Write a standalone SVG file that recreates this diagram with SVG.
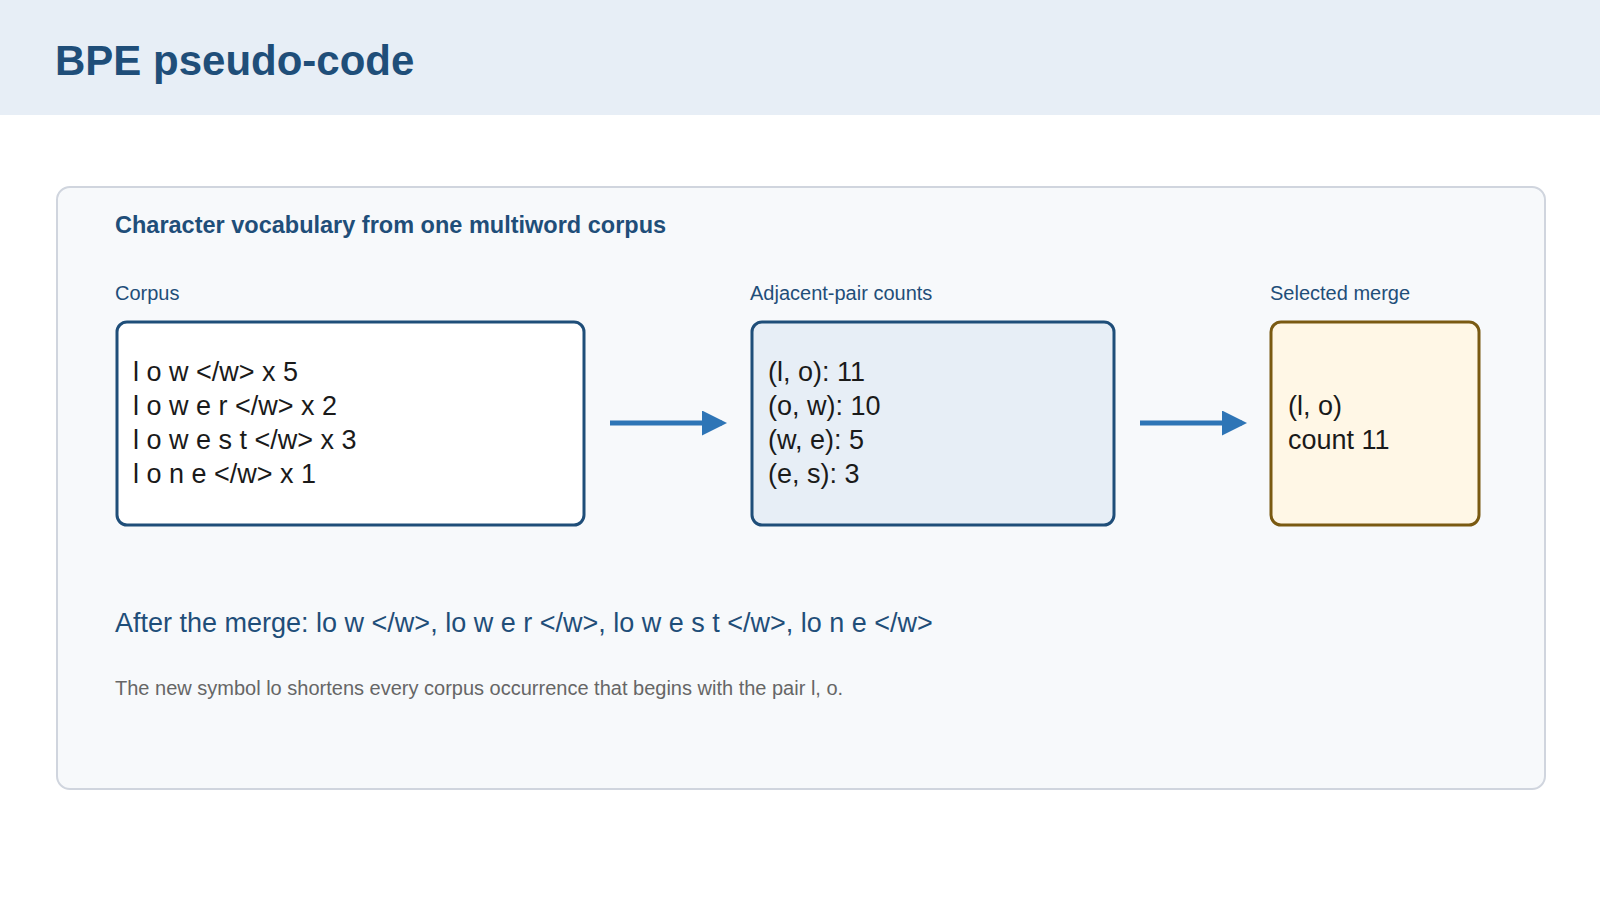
<svg xmlns="http://www.w3.org/2000/svg" width="1600" height="900" viewBox="0 0 1600 900">
<style>
text{font-family:"Liberation Sans",Arial,sans-serif}
.lbl{font-size:20px;fill:#1f4e79}
.mono{font-size:27px;fill:#1a1a1a}
.box{stroke-width:3}
.conn{stroke:#2e75b6;stroke-width:5;fill:none}
</style>
<defs>
<marker id="ah" markerWidth="5" markerHeight="5" refX="4" refY="2.5" orient="auto" markerUnits="strokeWidth">
<path d="M0,0 L5,2.5 L0,5 Z" fill="#2e75b6"/>
</marker>
</defs>
<rect x="0" y="0" width="1600" height="900" fill="#ffffff"/>
<rect x="0" y="0" width="1600" height="115" fill="#e7eef6"/>
<text x="55" y="75" font-size="42" font-weight="bold" fill="#1f4e79">BPE pseudo-code</text>
<rect x="57" y="187" width="1488" height="602" rx="13" fill="#f7f9fb" stroke="#d0d5de" stroke-width="2"/>
<text x="115" y="233" font-size="23.5" font-weight="bold" fill="#1f4e79">Character vocabulary from one multiword corpus</text>
<g id="corpus">
<text class="lbl" x="115" y="300">Corpus</text>
<rect class="box" x="117" y="322" width="467" height="203" rx="10" fill="#ffffff" stroke="#1f4e79"/>
<text class="mono" x="133" y="381">l o w &lt;/w&gt;  x 5</text>
<text class="mono" x="133" y="415">l o w e r &lt;/w&gt;  x 2</text>
<text class="mono" x="133" y="449">l o w e s t &lt;/w&gt;  x 3</text>
<text class="mono" x="133" y="483">l o n e &lt;/w&gt;  x 1</text>
</g>
<g id="counts">
<text class="lbl" x="750" y="300">Adjacent-pair counts</text>
<rect class="box" x="752" y="322" width="362" height="203" rx="10" fill="#e7eef6" stroke="#1f4e79"/>
<text class="mono" x="768" y="381">(l, o): 11</text>
<text class="mono" x="768" y="415">(o, w): 10</text>
<text class="mono" x="768" y="449">(w, e): 5</text>
<text class="mono" x="768" y="483">(e, s): 3</text>
</g>
<g id="merge">
<text class="lbl" x="1270" y="300">Selected merge</text>
<rect class="box" x="1271" y="322" width="208" height="203" rx="10" fill="#fff7e6" stroke="#7a5a12"/>
<text class="mono" x="1288" y="415">(l, o)</text>
<text class="mono" x="1288" y="449">count 11</text>
</g>
<g id="connectors">
<line class="conn" x1="610" y1="423" x2="722" y2="423" marker-end="url(#ah)"/>
<line class="conn" x1="1140" y1="423" x2="1242" y2="423" marker-end="url(#ah)"/>
</g>
<text x="115" y="632" font-size="27" fill="#1f4e79">After the merge:  lo w &lt;/w&gt;,  lo w e r &lt;/w&gt;,  lo w e s t &lt;/w&gt;,  lo n e &lt;/w&gt;</text>
<text x="115" y="695" font-size="20" fill="#666666">The new symbol lo shortens every corpus occurrence that begins with the pair l, o.</text>
</svg>
